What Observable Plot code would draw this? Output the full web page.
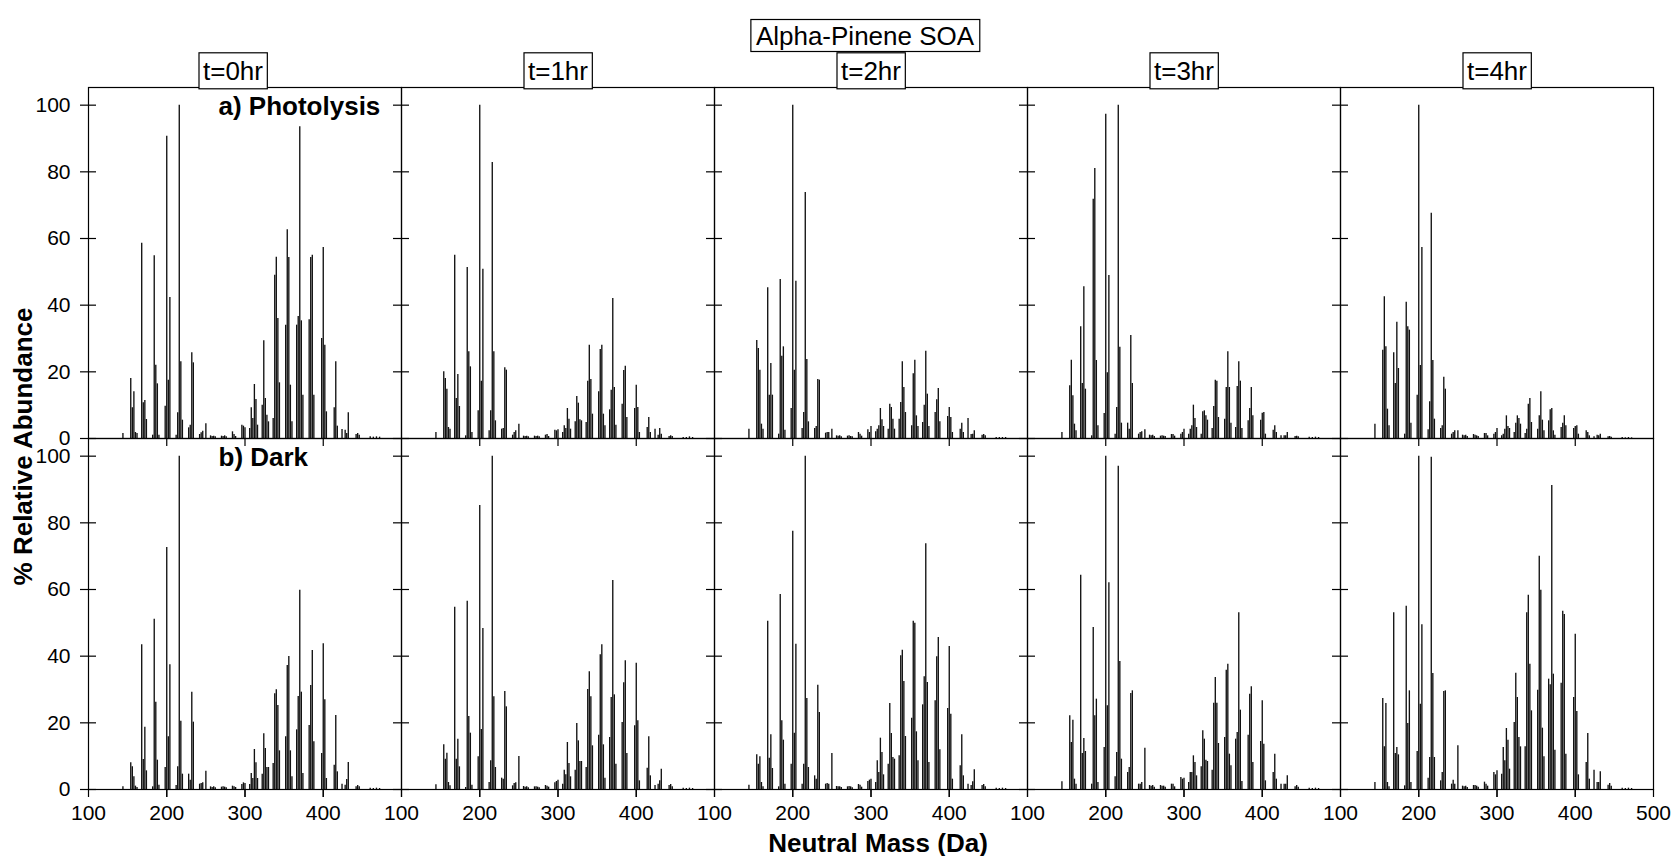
<!DOCTYPE html>
<html>
<head>
<meta charset="utf-8">
<script src="https://cdn.jsdelivr.net/npm/d3@7"></script>
<script src="https://cdn.jsdelivr.net/npm/@observablehq/plot@0.6"></script>
<style>
  html, body { margin: 0; padding: 0; background: #fff; }
  #chart svg { display: block; }
</style>
</head>
<body>
<div id="chart"></div>
<script>
// ---- categories / ticks ----
const times = ["t=0hr", "t=1hr", "t=2hr", "t=3hr", "t=4hr"];
const rows = ["a) Photolysis", "b) Dark"];
const title = "Alpha-Pinene SOA";
const xLabel = "Neutral Mass (Da)";
const yLabel = "% Relative Abundance";
const yTicks = [0, 20, 40, 60, 80, 100];
const xTickLabels = [100, 200, 300, 400];
const xLastLabel = [500];

// ---- neutral masses (Da) shared by all spectra ----
const masses = [
  144,
  154, 156, 158, 160, 162,
  168, 170, 172, 174,
  182, 184, 186, 188, 190,
  198, 200, 202, 204,
  212, 214, 216, 218, 220,
  228, 230, 232, 234,
  242, 244, 246, 250,
  256, 258, 260, 262,
  270, 272, 274, 276,
  284, 286, 288,
  296, 298, 300,
  306, 308, 310, 312, 314, 316,
  322, 324, 326, 328, 330,
  336, 338, 340, 342, 344,
  352, 354, 356, 358, 360,
  366, 368, 370, 372, 374,
  382, 384, 386, 388,
  398, 400, 402, 404,
  414, 416, 418,
  424, 428, 430, 432,
  442, 444, 446,
  460, 464, 468, 472
];

// ---- % relative abundance, photolysis ----
const photolysis0 = [
  1.5,
  18, 9.2, 14, 1.8, 1.5,
  58.6, 10.7, 11.4, 5.7,
  1, 54.8, 22, 16.4, 1,
  9.7, 90.7, 17.5, 42.3,
  1, 7.7, 100, 23, 5.5,
  3.2, 4, 25.7, 22.7,
  1.2, 1.7, 2.2, 4.4,
  0.8, 0.6, 0.7, 0.5,
  0.7, 0.6, 0.8, 0.5,
  2, 1.2, 0.6,
  4, 3.7, 3.2,
  3, 9.2, 6, 16.2, 11.7, 4,
  10, 29.3, 12, 7, 5,
  6, 49, 54.4, 36, 16.7,
  34, 62.6, 54.3, 16, 5,
  34, 36.6, 93.5, 35.3, 13,
  35.6, 54.3, 55, 13,
  30, 57.3, 28, 8,
  9.2, 23, 3.7,
  2.7, 2.5, 1.5, 7.7,
  1.2, 1.5, 1,
  0.5, 0.4, 0.5, 0.4
];
const photolysis1 = [
  1.8,
  20, 18, 14.8, 3.3, 2.8,
  55, 12, 19.2, 9.6,
  0.8, 51.3, 26, 21.5, 1.8,
  8.3, 100, 17.2, 50.8,
  2.3, 8.3, 82.8, 26, 5.3,
  2.8, 3, 21.2, 20.5,
  1, 1.8, 2.3, 4.3,
  0.7, 0.6, 0.7, 0.5,
  0.7, 0.6, 0.7, 0.5,
  1, 1.2, 0.6,
  2.5, 2.3, 2.6,
  1.8, 3.8, 3, 9, 5.8, 2.8,
  5, 12.6, 10.6, 5.6, 5.3,
  4.8, 17.2, 28, 17.7, 7.3,
  14, 26.7, 28, 7.3, 3.8,
  8.6, 14.5, 42, 15.3, 4,
  10.3, 20.4, 21.7, 6.3,
  9, 16, 9.3, 1.8,
  3.3, 6.3, 1.8,
  2.8, 1, 3, 1.3,
  0.6, 0.8, 0.6,
  0.3, 0.3, 0.5, 0.3
];
const photolysis2 = [
  2.8,
  29.4, 27, 20.5, 4.3, 2.8,
  45.2, 13, 22.5, 13,
  1.3, 47.7, 24.7, 27.5, 2.5,
  9, 100, 20.5, 47.2,
  3, 7.8, 73.8, 23.7, 5,
  3, 3.6, 17.7, 17.5,
  1.6, 1.8, 1.8, 2.8,
  0.8, 0.7, 0.8, 0.5,
  0.7, 0.8, 0.6, 0.5,
  1.8, 1.3, 0.7,
  2.6, 1.8, 3.6,
  2, 2.8, 3.8, 9, 5.6, 3.6,
  2.8, 10.3, 9.3, 5.8, 2.8,
  5.8, 10.8, 23, 15.3, 7.8,
  3.8, 19.4, 23.5, 6.8, 3.6,
  4.8, 10, 26.2, 13.3, 3.6,
  7.8, 11.6, 15, 5,
  6.6, 9.3, 6.3, 1.8,
  2.8, 4.6, 1.8,
  6, 1.2, 1.3, 2.3,
  1, 1.2, 0.8,
  0.3, 0.3, 0.3, 0.3
];
const photolysis3 = [
  1.8,
  15.8, 23.5, 12.8, 4.3, 2.3,
  33.5, 16.5, 45.5, 14.8,
  0.8, 71.8, 81, 23.4, 3.8,
  7.5, 97.3, 19.7, 48.9,
  1.3, 9.3, 100, 27.4, 4.6,
  4.6, 2.8, 30.9, 16.5,
  1.3, 1.8, 2, 2.6,
  1, 0.8, 1, 0.6,
  0.7, 0.8, 0.7, 0.6,
  1.2, 1.2, 0.7,
  1.3, 1.8, 2.8,
  1.3, 2.8, 3.8, 10, 6, 3.3,
  1.3, 8, 8.3, 6.8, 5.5,
  3, 9.6, 17.5, 17.2, 6.3,
  5.8, 15.3, 26, 15.3, 4.6,
  3.3, 15.6, 23, 17.2, 3,
  5.3, 9, 15.3, 6.8,
  5.5, 7.6, 7.8, 1.3,
  2.5, 3.8, 1.8,
  0.8, 0.8, 0.8, 1.8,
  0.6, 0.7, 0.5,
  0.4, 0.3, 0.4, 0.3
];
const photolysis4 = [
  4.3,
  26.5, 42.5, 27.5, 8.8, 3.8,
  25.7, 16.5, 34.9, 21,
  1.3, 40.9, 33.5, 32.5, 4.6,
  13, 100, 21.9, 57.3,
  2.6, 11, 67.6, 23.4, 5.8,
  3, 3.8, 18.4, 14.8,
  1.3, 1.8, 2.3, 2.3,
  1, 0.8, 1, 0.6,
  1.2, 1, 0.8, 0.6,
  1.5, 1.5, 0.8,
  1.3, 1.8, 3,
  0.8, 1.3, 2.8, 6.8, 3.6, 3,
  1.8, 4.6, 6.8, 6, 4.3,
  1.5, 2.8, 10.3, 12, 4.8,
  2.8, 6.8, 14, 5.5, 2.3,
  5.3, 8.6, 9, 2.3, 1,
  3.3, 4.6, 6.8, 3.8,
  3, 3.6, 3.8, 1.3,
  2.3, 1.8, 0.8,
  0.5, 1, 0.8, 1.3,
  0.5, 0.6, 0.4,
  0.3, 0.2, 0.3, 0.2
];

// ---- % relative abundance, dark ----
const dark0 = [
  0.8,
  8, 6.8, 3.8, 1, 0.6,
  43.4, 9, 18.7, 5.6,
  0.8, 51.1, 26.2, 8.8, 1.3,
  6.6, 72.6, 15.8, 37.4,
  1.2, 6.8, 100, 20.5, 4.6,
  4.6, 2.8, 29.2, 20.2,
  1.6, 1.8, 2, 5.5,
  0.8, 0.6, 0.8, 0.5,
  0.7, 0.8, 0.7, 0.5,
  1, 0.8, 0.6,
  1.5, 2, 1.8,
  1.5, 4.8, 3.3, 12, 8, 3.3,
  4.6, 16.7, 12.3, 6.6, 6.6,
  7.8, 28.7, 29.9, 25.2, 11.6,
  15.8, 37.2, 39.9, 11.6, 3.8,
  17.9, 27.9, 59.8, 29.2, 4.8,
  19.2, 31.2, 41.7, 14.3,
  10.8, 43.7, 26.9, 3.3,
  7.3, 22.2, 5.3,
  1.6, 1.3, 3, 8.1,
  0.8, 1.2, 0.8,
  0.4, 0.3, 0.4, 0.3
];
const dark1 = [
  1.4,
  13.4, 9.1, 10.9, 2.1, 1.1,
  54.7, 9.1, 15.1, 6.8,
  0.6, 56.5, 21.9, 16.9, 1.3,
  9.8, 85.2, 18, 48.3,
  2.1, 8.6, 100, 27.8, 6.6,
  3.4, 3.1, 29.4, 24.8,
  1.1, 1.8, 2, 9.9,
  0.9, 0.7, 0.8, 0.5,
  0.8, 0.8, 0.7, 0.5,
  1.2, 1, 0.7,
  2, 2.4, 2.8,
  1.6, 5.8, 4.4, 14.1, 7.8, 3.8,
  5.8, 19.8, 14.6, 8.4, 8.4,
  6.6, 30, 35.3, 27.8, 13.1,
  16.3, 40.4, 43.4, 13.4, 3.4,
  15.6, 27.6, 62.7, 28.4, 7.6,
  20.1, 32, 38.6, 10.8,
  19.1, 37.9, 20.6, 2.6,
  6.4, 15.8, 4.1,
  1.2, 1.6, 2.6, 6.1,
  1.2, 1.5, 0.8,
  0.4, 0.3, 0.4, 0.3
];
const dark2 = [
  1.3,
  10.4, 7.6, 9.8, 2.1, 0.8,
  50.5, 9.4, 16.4, 6.3,
  0.8, 58.5, 20.6, 14.8, 1.6,
  7.6, 77.5, 16.9, 43.6,
  1.6, 7.6, 100, 27.3, 6.6,
  4.1, 3.1, 31.3, 23.1,
  1.6, 1.8, 1.6, 10.8,
  0.9, 0.8, 0.8, 0.6,
  0.8, 0.9, 0.8, 0.5,
  1.5, 1.3, 0.7,
  2.4, 2.8, 3.1,
  2.1, 8.6, 5.1, 15.4, 11.1, 4.4,
  7.6, 25.8, 16.8, 9.6, 9.1,
  10.1, 40.1, 41.8, 32.4, 15.9,
  21.4, 50.5, 49.9, 17.3, 8.6,
  25.4, 33.8, 73.7, 32.1, 8.1,
  26.6, 39.8, 45.6, 11.9,
  24.3, 42.9, 22.6, 3.1,
  7.1, 16.4, 4.1,
  1.6, 1.2, 2.3, 5.9,
  1.2, 1.5, 0.8,
  0.4, 0.3, 0.4, 0.3
];
const dark3 = [
  2.3,
  22.1, 14.1, 20.8, 3.1, 1.6,
  64.3, 10.8, 15.3, 11.4,
  1.6, 48.6, 22.1, 27.1, 2.1,
  12.6, 100, 25.1, 62,
  3.8, 11.1, 97, 38.4, 9.1,
  5.1, 6.6, 28.8, 29.6,
  1.6, 1.6, 2.1, 12.4,
  1.2, 1, 1.2, 0.7,
  1.2, 1, 1, 0.7,
  1.6, 1.6, 0.8,
  3.6, 3.1, 3.4,
  2.1, 5.1, 5.1, 10.1, 8.1, 4.1,
  6.8, 17.6, 15.1, 8.8, 8.4,
  5.8, 25.9, 33.6, 25.9, 13.8,
  15.6, 35.8, 37.6, 10.6, 7.1,
  15.1, 17.1, 53, 23.8, 2.4,
  16.3, 28.6, 30.8, 8.1,
  14.4, 26.6, 13.6, 2.6,
  5.1, 10.6, 3.1,
  1.6, 1.6, 1.6, 4.1,
  0.8, 1.2, 0.7,
  0.4, 0.3, 0.4, 0.3
];
const dark4 = [
  2.1,
  27.3, 12.8, 25.8, 2.1, 0.8,
  53, 10.8, 12.6, 10.4,
  1.1, 55, 19.8, 29.6, 2.1,
  11.4, 100, 25.6, 49.4,
  3.4, 9.6, 99.7, 34.8, 9.6,
  2.6, 5.1, 29.4, 29.6,
  1.6, 2.8, 1.6, 13.1,
  1, 0.8, 1, 0.6,
  1.2, 1.2, 1, 0.7,
  2.2, 1.6, 1,
  5.1, 4.4, 5.6,
  4.6, 12.6, 8.6, 18.3, 14.8, 6.1,
  20.1, 34.9, 27.6, 15.6, 12.8,
  12.8, 53, 58.3, 37.6, 23.6,
  29.8, 70, 59.8, 18.4, 9.8,
  33.1, 31.4, 91.2, 34.6, 11.8,
  31.9, 53.5, 52.5, 10.6,
  27.6, 46.6, 23.4, 4.4,
  8.1, 16.8, 3.1,
  5.8, 2.1, 2.1, 5.3,
  1.3, 1.8, 1,
  0.4, 0.3, 0.4, 0.3
];

const photolysis = [photolysis0, photolysis1, photolysis2, photolysis3, photolysis4];
const dark = [dark0, dark1, dark2, dark3, dark4];

// ---- tidy table for Plot ----
const spectra = [];
[[rows[0], photolysis], [rows[1], dark]].forEach(([row, set]) => {
  set.forEach((vals, ti) => {
    vals.forEach((v, i) => {
      spectra.push({row, time: times[ti], mass: masses[i], value: v});
    });
  });
});

const FONT = "'Liberation Sans', Arial, Helvetica, sans-serif";

const chart = Plot.plot({
  width: 1673,
  height: 856,
  marginLeft: 88,
  marginRight: 20,
  marginTop: 86,
  marginBottom: 67,
  style: {fontFamily: FONT, fontSize: "21px", color: "#000", background: "#fff", overflow: "visible"},
  x: {domain: [100, 500]},
  y: {domain: [0, 105.3]},
  fx: {domain: times, padding: 0, axis: null},
  fy: {domain: rows, padding: 0, axis: null},
  marks: [
    // spectra sticks
    Plot.ruleX(spectra, {x: "mass", y1: 0, y2: "value", fx: "time", fy: "row", stroke: "#111", strokeWidth: 1.35}),
    // panel frames
    Plot.frame({stroke: "#000", strokeWidth: 1.2}),
    // y ticks crossing each panel's left edge
    Plot.axisY(yTicks, {anchor: "left", tickSize: 16, dx: 8, fill: "none", label: null, facetAnchor: null, strokeWidth: 1.2}),
    // y tick labels (first column)
    Plot.axisY(yTicks, {anchor: "left", tickSize: 0, tickPadding: 18, label: null, fontSize: 21}),
    // x ticks below each panel
    Plot.axisX([200, 300, 400], {anchor: "bottom", tickSize: 8, fill: "none", label: null, facetAnchor: null, strokeWidth: 1.2}),
    Plot.axisX([100, 200, 300, 400, 500], {anchor: "bottom", tickSize: 8, fill: "none", label: null, facetAnchor: "bottom", strokeWidth: 1.2}),
    // x tick labels (bottom row)
    Plot.axisX(xTickLabels, {anchor: "bottom", tickSize: 0, tickPadding: 16, label: null, facetAnchor: "bottom", fontSize: 21}),
    Plot.text(xLastLabel, {x: d => d, fx: () => times[4], fy: () => rows[1], text: d => String(d), frameAnchor: "bottom", lineAnchor: "top", dy: 16, fontSize: 21}),
    // row labels
    Plot.text(rows, {fx: () => times[0], fy: d => d, text: d => d, frameAnchor: "top-left", textAnchor: "start", lineAnchor: "bottom", dx: 130, dy: 27, fontSize: 26, fontWeight: "bold"}),
    // column labels (boxed later)
    Plot.text(times.slice(0, 1), {fx: d => d, fy: () => rows[0], text: d => d, frameAnchor: "top", lineAnchor: "bottom", dx: -12, dy: -7.7, fontSize: 26}),
    Plot.text(times.slice(1), {fx: d => d, fy: () => rows[0], text: d => d, frameAnchor: "top", lineAnchor: "bottom", dy: -7.7, fontSize: 26}),
    // overall title (boxed later)
    Plot.text([title], {fx: () => times[2], fy: () => rows[0], text: d => d, frameAnchor: "top", lineAnchor: "bottom", dx: -6, dy: -43, fontSize: 26}),
    // axis titles
    Plot.text([xLabel], {fx: () => times[2], fy: () => rows[1], text: d => d, frameAnchor: "bottom", lineAnchor: "bottom", dx: 7, dy: 62, fontSize: 26, fontWeight: "bold"}),
    Plot.text([yLabel], {fx: () => times[0], fy: () => rows[1], text: d => d, frameAnchor: "top-left", textAnchor: "middle", lineAnchor: "bottom", rotate: -90, dx: -57, dy: 8, fontSize: 26, fontWeight: "bold"})
  ]
});

document.getElementById("chart").appendChild(chart);

// draw boxes behind the title and column labels
const boxPad = new Map([[title, {px: 5, py: 1}], ...times.map(t => [t, {px: 4, py: 3}])]);
chart.querySelectorAll("text").forEach(t => {
  const key = t.textContent.trim();
  if (!boxPad.has(key)) return;
  const {px, py} = boxPad.get(key);
  const b = t.getBBox();
  const r = document.createElementNS("http://www.w3.org/2000/svg", "rect");
  r.setAttribute("x", b.x - px);
  r.setAttribute("y", b.y - py);
  r.setAttribute("width", b.width + 2 * px);
  r.setAttribute("height", b.height + 2 * py);
  r.setAttribute("fill", "#fff");
  r.setAttribute("stroke", "#000");
  r.setAttribute("stroke-width", "1.2");
  const tr = t.getAttribute("transform");
  if (tr) r.setAttribute("transform", tr);
  t.parentNode.insertBefore(r, t);
});
</script>
</body>
</html>
